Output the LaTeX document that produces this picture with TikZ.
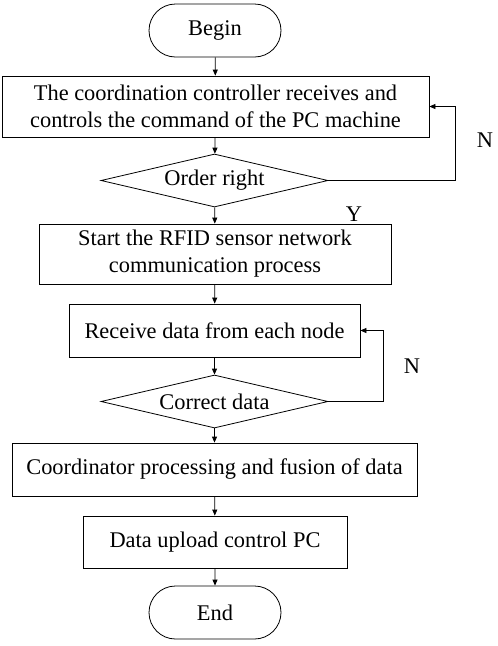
\documentclass[tikz,border=0pt]{standalone}
\usepackage{fontspec}
\setmainfont{Liberation Serif}
\usetikzlibrary{shapes.geometric,shapes.misc,arrows.meta}
\begin{document}
\begin{tikzpicture}[x=1pt,y=-1pt,
  every node/.style={font=\fontsize{22.4}{27}\selectfont},
  proc/.style={draw,line width=0.8pt,inner sep=0pt,align=center},
  term/.style={draw,line width=0.8pt,rounded rectangle,inner sep=0pt,minimum width=132pt,minimum height=53pt},
  dec/.style={draw,line width=0.8pt,diamond,shape aspect=4.3,inner sep=0pt,minimum width=227pt,minimum height=53pt},
  arr/.style={line width=0.8pt,-{Triangle[length=6pt,width=5pt]}},
  lbl/.style={inner sep=0pt}]
\useasboundingbox (0,0) rectangle (498,646);
\node[term] (begin) at (215,30.5) {Begin};
\node[proc,minimum width=427pt,minimum height=61pt] (b1) at (215.5,106.5) {The coordination controller receives and\\controls the command of the PC machine};
\node[dec] (d1) at (214.5,180.5) {Order right};
\node[proc,minimum width=352pt,minimum height=60pt] (b2) at (215,254) {Start the RFID sensor network\\communication process};
\node[proc,minimum width=291pt,minimum height=53pt] (b3) at (214.5,330.5) {Receive data from each node};
\node[dec] (d2) at (214.5,401.5) {Correct data};
\node[proc,minimum width=405pt,minimum height=53pt] (b4) at (214.5,469.5) {Coordinator processing and fusion of data};
\node[proc,minimum width=264pt,minimum height=52pt] (b5) at (215,542) {Data upload control PC};
\node[term] (end) at (215,612.5) {End};
\node[lbl] (n1) at (485,140) {N};
\node[lbl] (y1) at (354,214) {Y};
\node[lbl] (n2) at (412,366) {N};
\draw[arr] (begin) -- (b1);
\draw[arr] (b1) -- (d1);
\draw[arr] (d1) -- (b2);
\draw[arr] (b2) -- (b3);
\draw[arr] (b3) -- (d2);
\draw[arr] (d2) -- (b4);
\draw[arr] (b4) -- (b5);
\draw[arr] (b5) -- (end);
\draw[arr] (d1.east) -- ++(127,0) |- (b1.east);
\draw[arr] (d2.east) -- ++(55,0) |- (b3.east);
\end{tikzpicture}
\end{document}
